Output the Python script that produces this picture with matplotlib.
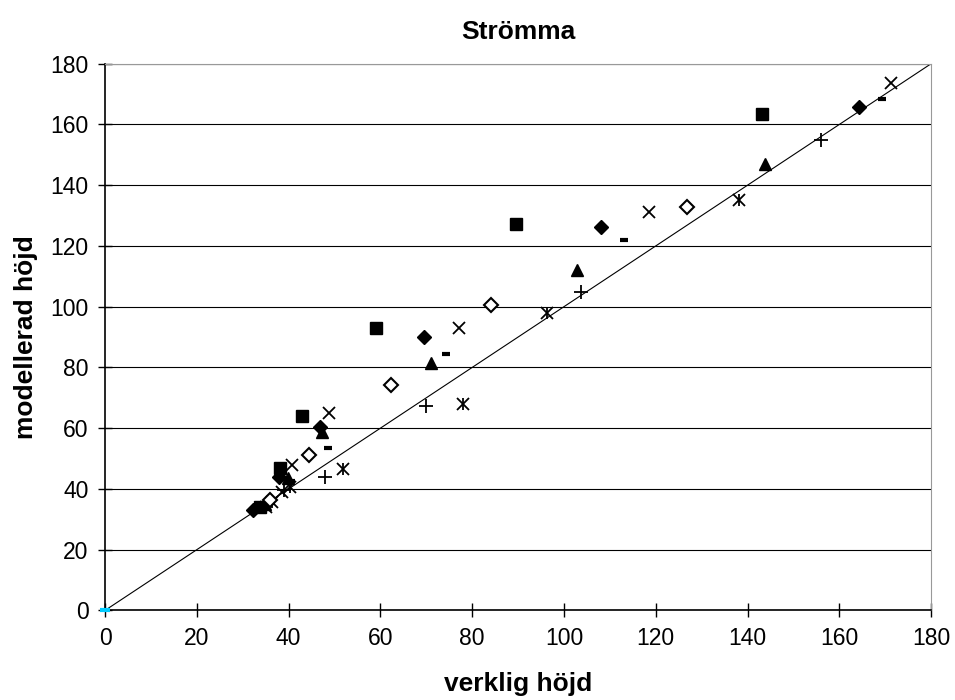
import matplotlib.pyplot as plt
import numpy as np

plt.rcParams['font.family'] = ['Liberation Sans', 'DejaVu Sans']

# verklig / modellerad höjd per serie
diamond_x = [32.3, 37.8, 46.8, 69.4, 108.0, 164.2]
diamond_y = [33.1, 44.0, 60.5, 90.1, 126.1, 165.6]
square_x = [33.8, 38.1, 42.9, 59.0, 89.6, 143.1]
square_y = [34.0, 46.8, 64.0, 92.9, 127.2, 163.4]
triangle_x = [34.9, 39.8, 47.2, 71.0, 102.9, 143.8]
triangle_y = [35.0, 43.5, 58.8, 81.3, 112.0, 146.9]
cross_x = [35.0, 38.5, 40.8, 48.9, 77.1, 118.5, 171.2]
cross_y = [34.0, 39.1, 48.0, 64.9, 92.9, 131.2, 173.7]
star_x = [36.3, 40.2, 51.8, 78.1, 96.2, 138.2]
star_y = [35.8, 40.7, 46.5, 67.9, 97.8, 135.1]
plus_x = [35.5, 39.0, 47.9, 69.9, 103.7, 156.0]
plus_y = [35.0, 39.5, 43.8, 67.4, 104.9, 155.0]
dash_x = [36.0, 40.5, 48.6, 74.3, 113.1, 169.2]
dash_y = [35.5, 42.5, 53.4, 84.4, 121.9, 168.5]
odiamond_x = [36.0, 44.5, 62.3, 84.1, 126.8]
odiamond_y = [36.5, 51.2, 74.2, 100.5, 132.7]
line_x = [0, 180]
line_y = [0, 180]

fig = plt.figure(figsize=(9.55, 7), dpi=100)
ax = fig.add_axes([0.110, 0.128, 0.865, 0.781])

ax.plot(line_x, line_y, color='black', lw=0.8, zorder=2)
ax.plot([0], [0], marker='_', color='#00ccff', ms=7, mew=3, zorder=5, clip_on=False)

ax.plot(diamond_x, diamond_y, 'D', color='black', ms=7, ls='none', zorder=3)
ax.plot(square_x, square_y, 's', color='black', ms=8, ls='none', zorder=3)
ax.plot(triangle_x, triangle_y, '^', color='black', ms=9, ls='none', zorder=3)
ax.plot(cross_x, cross_y, 'x', color='black', ms=8.5, mew=1.3, ls='none', zorder=3)
ax.plot(star_x, star_y, 'x', color='black', ms=8, mew=1.3, ls='none', zorder=3)
ax.plot(star_x, star_y, '|', color='black', ms=9, mew=1.3, ls='none', zorder=3)
ax.plot(plus_x, plus_y, '+', color='black', ms=9.5, mew=1.3, ls='none', zorder=3)
ax.plot(dash_x, dash_y, '_', color='black', ms=6, mew=3, ls='none', zorder=3)
ax.plot(odiamond_x, odiamond_y, 'D', mfc='white', mec='black', mew=1.5, ms=7, ls='none', zorder=3)

ax.set_xlim(0, 180)
ax.set_ylim(0, 180)
ax.set_xticks(np.arange(0, 181, 20))
ax.set_yticks(np.arange(0, 181, 20))
ax.yaxis.grid(True, color='black', lw=0.8)
ax.set_axisbelow(True)

ax.spines['top'].set_color('#999999')
ax.spines['right'].set_color('#999999')
ax.spines['left'].set_linewidth(1.2)
ax.spines['bottom'].set_linewidth(1.2)
ax.tick_params(direction='inout', length=10, width=1, labelsize=16.5, pad=7)

ax.set_title('Strömma', fontsize=19, fontweight='bold', pad=18)
ax.set_xlabel('verklig höjd', fontsize=19, fontweight='bold', labelpad=16)
ax.set_ylabel('modellerad höjd', fontsize=19, fontweight='bold', labelpad=9)

fig.savefig('out.png', dpi=100)
